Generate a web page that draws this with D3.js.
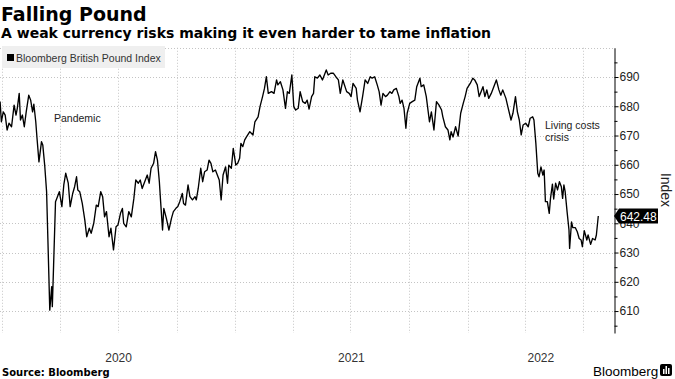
<!DOCTYPE html>
<html>
<head>
<meta charset="utf-8">
<script src="https://cdn.jsdelivr.net/npm/d3@7"></script>
<style>
  body { margin: 0; background: #fff; }
  svg { display: block; font-family: 'Liberation Sans', Arial, sans-serif; }
</style>
</head>
<body>
<script>
(function () {
  'use strict';

  // Bloomberg British Pound Index
  var dates = [
    '2019-12-29', '2019-12-31', '2020-01-03', '2020-01-06', '2020-01-09', '2020-01-12', '2020-01-16', '2020-01-20',
    '2020-01-23', '2020-01-25', '2020-01-28', '2020-01-30', '2020-02-02', '2020-02-05', '2020-02-08', '2020-02-12',
    '2020-02-15', '2020-02-18', '2020-02-20', '2020-02-23', '2020-02-25', '2020-02-28', '2020-03-03', '2020-03-05',
    '2020-03-08', '2020-03-11', '2020-03-13', '2020-03-16', '2020-03-19', '2020-03-20', '2020-03-22', '2020-03-25',
    '2020-03-27', '2020-03-31', '2020-04-04', '2020-04-07', '2020-04-10', '2020-04-14', '2020-04-17', '2020-04-21',
    '2020-04-24', '2020-04-27', '2020-04-29', '2020-05-02', '2020-05-06', '2020-05-10', '2020-05-13', '2020-05-17',
    '2020-05-20', '2020-05-24', '2020-05-28', '2020-05-31', '2020-06-04', '2020-06-07', '2020-06-10', '2020-06-13',
    '2020-06-17', '2020-06-20', '2020-06-24', '2020-06-28', '2020-07-01', '2020-07-05', '2020-07-08', '2020-07-10',
    '2020-07-14', '2020-07-18', '2020-07-22', '2020-07-26', '2020-07-29', '2020-08-02', '2020-08-05', '2020-08-08',
    '2020-08-12', '2020-08-16', '2020-08-19', '2020-08-22', '2020-08-26', '2020-08-29', '2020-09-01', '2020-09-04',
    '2020-09-06', '2020-09-09', '2020-09-11', '2020-09-15', '2020-09-19', '2020-09-23', '2020-09-26', '2020-09-30',
    '2020-10-03', '2020-10-06', '2020-10-10', '2020-10-12', '2020-10-15', '2020-10-19', '2020-10-22', '2020-10-26',
    '2020-10-30', '2020-11-01', '2020-11-04', '2020-11-08', '2020-11-11', '2020-11-14', '2020-11-18', '2020-11-21',
    '2020-11-24', '2020-11-27', '2020-12-01', '2020-12-04', '2020-12-07', '2020-12-10', '2020-12-13', '2020-12-17',
    '2020-12-20', '2020-12-22', '2020-12-26', '2020-12-29', '2021-01-02', '2021-01-05', '2021-01-08', '2021-01-10',
    '2021-01-13', '2021-01-16', '2021-01-19', '2021-01-24', '2021-01-29', '2021-02-01', '2021-02-06', '2021-02-09',
    '2021-02-13', '2021-02-16', '2021-02-19', '2021-02-22', '2021-02-27', '2021-03-03', '2021-03-07', '2021-03-09',
    '2021-03-13', '2021-03-17', '2021-03-21', '2021-03-24', '2021-03-27', '2021-03-31', '2021-04-03', '2021-04-06',
    '2021-04-10', '2021-04-13', '2021-04-17', '2021-04-21', '2021-04-24', '2021-04-27', '2021-05-01', '2021-05-04',
    '2021-05-06', '2021-05-10', '2021-05-14', '2021-05-18', '2021-05-24', '2021-05-27', '2021-05-31', '2021-06-04',
    '2021-06-08', '2021-06-12', '2021-06-15', '2021-06-19', '2021-06-25', '2021-06-29', '2021-07-02', '2021-07-05',
    '2021-07-10', '2021-07-12', '2021-07-16', '2021-07-20', '2021-07-24', '2021-07-28', '2021-08-01', '2021-08-04',
    '2021-08-08', '2021-08-12', '2021-08-15', '2021-08-18', '2021-08-21', '2021-08-25', '2021-08-28', '2021-09-01',
    '2021-09-04', '2021-09-07', '2021-09-11', '2021-09-15', '2021-09-17', '2021-09-20', '2021-09-23', '2021-09-26',
    '2021-09-28', '2021-10-02', '2021-10-06', '2021-10-10', '2021-10-13', '2021-10-18', '2021-10-20', '2021-10-24',
    '2021-10-28', '2021-11-02', '2021-11-05', '2021-11-09', '2021-11-13', '2021-11-17', '2021-11-21', '2021-11-23',
    '2021-11-27', '2021-12-01', '2021-12-04', '2021-12-06', '2021-12-09', '2021-12-13', '2021-12-17', '2021-12-21',
    '2021-12-25', '2021-12-28', '2021-12-31', '2022-01-05', '2022-01-09', '2022-01-12', '2022-01-16', '2022-01-19',
    '2022-01-22', '2022-01-25', '2022-01-28', '2022-01-31', '2022-02-03', '2022-02-07', '2022-02-11', '2022-02-15',
    '2022-02-19', '2022-02-22', '2022-02-25', '2022-03-02', '2022-03-05', '2022-03-10', '2022-03-13', '2022-03-17',
    '2022-03-20', '2022-03-23', '2022-03-26', '2022-03-29', '2022-04-02', '2022-04-06', '2022-04-09', '2022-04-13',
    '2022-04-15', '2022-04-18', '2022-04-21', '2022-04-23', '2022-04-26', '2022-04-29', '2022-05-01', '2022-05-03',
    '2022-05-06', '2022-05-09', '2022-05-11', '2022-05-14', '2022-05-16', '2022-05-19', '2022-05-22', '2022-05-25',
    '2022-05-28', '2022-05-30', '2022-06-01', '2022-06-03', '2022-06-06', '2022-06-09', '2022-06-10', '2022-06-13',
    '2022-06-15', '2022-06-19', '2022-06-22', '2022-06-25', '2022-06-28', '2022-06-30', '2022-07-03', '2022-07-07',
    '2022-07-09', '2022-07-13', '2022-07-16', '2022-07-20', '2022-07-22', '2022-07-25'
  ];

  var values = [
    681.6, 674.7, 678.1, 677.0, 671.9, 674.2, 673.0, 680.4,
    677.0, 679.3, 684.4, 675.3, 677.0, 673.0, 678.1, 683.8,
    682.1, 678.1, 680.7, 674.7, 669.0, 661.0, 667.9, 666.8,
    659.9, 650.8, 634.8, 610.3, 618.3, 611.5, 625.7, 647.4,
    648.5, 650.8, 645.7, 653.1, 657.1, 653.7, 645.7, 650.2,
    652.5, 655.9, 651.4, 650.8, 646.8, 641.1, 635.4, 638.3,
    636.6, 640.0, 646.2, 645.7, 650.8, 649.1, 642.2, 644.0,
    635.4, 638.3, 630.9, 638.8, 639.4, 643.4, 645.1, 640.0,
    638.8, 644.0, 642.2, 648.5, 654.8, 653.7, 654.8, 651.9,
    654.2, 656.5, 653.7, 658.8, 660.5, 664.5, 661.6, 654.2,
    647.4, 637.7, 645.1, 641.7, 637.7, 641.7, 644.0, 645.1,
    645.7, 647.4, 650.2, 646.8, 646.2, 653.1, 649.1, 648.0,
    649.1, 648.0, 651.9, 658.8, 654.2, 657.6, 658.2, 661.6,
    660.5, 657.6, 658.2, 656.5, 654.8, 648.0, 656.5, 659.3,
    653.7, 659.9, 658.8, 665.6, 659.9, 660.5, 662.2, 667.3,
    666.2, 668.5, 669.6, 671.3, 670.2, 674.7, 676.4, 679.9,
    683.3, 686.1, 690.1, 684.4, 685.0, 684.4, 689.0, 687.3,
    688.4, 685.6, 679.3, 685.0, 684.4, 690.7, 679.9, 678.7,
    679.3, 685.0, 681.6, 681.0, 682.1, 679.0, 683.3, 684.4,
    690.1, 689.6, 690.7, 689.0, 692.4, 690.7, 691.3, 691.3,
    690.1, 689.0, 684.4, 689.0, 685.0, 684.4, 683.3, 687.8,
    686.1, 682.1, 678.1, 683.3, 689.0, 687.8, 690.1, 689.6,
    690.1, 687.3, 685.0, 680.4, 684.4, 683.3, 683.8, 685.0,
    684.4, 685.6, 686.1, 683.3, 681.0, 682.1, 679.3, 672.5,
    677.6, 681.0, 681.6, 682.1, 686.7, 689.6, 686.7, 687.3,
    683.3, 674.7, 678.1, 671.9, 681.6, 680.4, 678.7, 676.4,
    673.0, 671.9, 668.5, 671.3, 669.5, 673.0, 669.8, 677.6,
    681.0, 683.3, 686.1, 687.8, 689.6, 689.0, 687.3, 683.3,
    685.0, 686.7, 683.3, 685.6, 682.7, 684.4, 686.7, 689.0,
    685.6, 683.8, 685.6, 682.7, 679.9, 675.3, 677.6, 683.3,
    678.1, 675.3, 670.2, 673.6, 674.2, 673.0, 675.9, 676.4,
    675.3, 667.3, 657.1, 655.9, 659.3, 656.5, 658.2, 647.4,
    647.4, 643.4, 648.5, 653.4, 648.3, 653.7, 651.4, 654.2,
    652.5, 648.5, 653.1, 650.8, 644.0, 637.7, 631.4, 640.5,
    638.5, 638.5, 637.1, 634.8, 634.3, 632.0, 637.5, 634.3,
    636.0, 632.8, 634.8, 634.3, 636.0, 642.48
  ];

  var yTicks = [610, 620, 630, 640, 650, 660, 670, 680, 690];
  var yGrid = [610, 620, 630, 640, 650, 660, 670, 680, 690, 700];
  var yMinor = [605, 615, 625, 635, 645, 655, 665, 675, 685, 695];
  var years = ['2020', '2021', '2022'];
  var lastValueLabel = '642.48';

  var titleText = 'Falling Pound';
  var subtitleText = 'A weak currency risks making it even harder to tame inflation';
  var legendText = 'Bloomberg British Pound Index';
  var sourceText = 'Source: Bloomberg';

  var W = 675,
    H = 379,
    plotLeft = 0,
    plotRight = 614,
    plotTop = 47.75,
    plotBottom = 333,
    parse = d3.utcParse('%Y-%m-%d'),
    svg,
    x,
    y,
    data;

  init();

  function init() {
    data = dates.map(function (d, i) {
      return { date: parse(d), value: values[i] };
    });

    svg = d3.select('body')
      .append('svg')
      .attr('width', W)
      .attr('height', H);

    svg.append('rect')
      .attr('width', W)
      .attr('height', H)
      .attr('fill', '#fff');

    x = d3.scaleUtc()
      .domain([parse('2020-01-01'), parse('2022-07-01')])
      .range([2, 583]);

    y = d3.scaleLinear()
      .domain([602.5, 700])
      .range([plotBottom, plotTop]);

    drawTitles();
    drawGrid();
    drawLegend();
    drawLine();
    drawAxis();
    drawNotes();
    drawFooter();
  }

  function drawTitles() {
    svg.append('text')
      .attr('x', 1)
      .attr('y', 21)
      .attr('font-family', 'DejaVu Sans')
      .attr('font-weight', 'bold')
      .attr('font-size', 19)
      .attr('fill', '#000')
      .text(titleText);

    svg.append('text')
      .attr('x', 1)
      .attr('y', 38)
      .attr('font-family', 'DejaVu Sans')
      .attr('font-weight', 'bold')
      .attr('font-size', 14)
      .attr('fill', '#000')
      .text(subtitleText);
  }

  function drawGrid() {
    var quarters = d3.utcMonth.every(3).range(parse('2020-01-01'), parse('2022-07-02'));

    svg.append('g')
      .selectAll('line')
      .data(yGrid)
      .enter()
      .append('line')
      .attr('x1', plotLeft)
      .attr('x2', plotRight)
      .attr('y1', function (d) { return Math.round(y(d)) + 0.5; })
      .attr('y2', function (d) { return Math.round(y(d)) + 0.5; })
      .attr('stroke', '#c4c4c4')
      .attr('stroke-dasharray', '1,2');

    svg.append('g')
      .selectAll('line')
      .data(quarters)
      .enter()
      .append('line')
      .attr('x1', function (d) { return Math.round(x(d)) + 0.5; })
      .attr('x2', function (d) { return Math.round(x(d)) + 0.5; })
      .attr('y1', plotTop)
      .attr('y2', plotBottom)
      .attr('stroke', '#c4c4c4')
      .attr('stroke-dasharray', '1,2');
  }

  function drawLegend() {
    var g = svg.append('g');

    g.append('rect')
      .attr('x', 2)
      .attr('y', 46)
      .attr('width', 163)
      .attr('height', 22)
      .attr('fill', '#efefef');

    g.append('rect')
      .attr('x', 7)
      .attr('y', 54)
      .attr('width', 7)
      .attr('height', 7)
      .attr('fill', '#000');

    g.append('text')
      .attr('x', 16)
      .attr('y', 61.5)
      .attr('font-size', 10.5)
      .attr('fill', '#333')
      .text(legendText);
  }

  function drawLine() {
    svg.append('clipPath')
      .attr('id', 'plot-clip')
      .append('rect')
      .attr('x', plotLeft)
      .attr('y', plotTop - 5)
      .attr('width', plotRight - plotLeft)
      .attr('height', plotBottom - plotTop + 5);

    var line = d3.line()
      .x(function (d) { return x(d.date); })
      .y(function (d) { return y(d.value); });

    svg.append('path')
      .datum(data)
      .attr('clip-path', 'url(#plot-clip)')
      .attr('fill', 'none')
      .attr('stroke', '#000')
      .attr('stroke-width', 1.35)
      .attr('stroke-linejoin', 'round')
      .attr('d', line);
  }

  function drawAxis() {
    var axis = d3.axisRight(y)
      .tickValues(yTicks)
      .tickSize(4)
      .tickSizeOuter(0)
      .tickPadding(1)
      .tickFormat(d3.format('d'));

    var g = svg.append('g')
      .attr('transform', 'translate(' + (plotRight + 0.5) + ',0)')
      .call(axis);

    g.select('.domain').attr('stroke', '#000');
    g.selectAll('.tick line').attr('stroke', '#000');
    g.selectAll('.tick text')
      .attr('font-family', 'Liberation Sans, Arial, sans-serif')
      .attr('font-size', 12)
      .attr('fill', '#222');

    var minor = d3.axisRight(y)
      .tickValues(yMinor)
      .tickSize(3)
      .tickSizeOuter(0)
      .tickFormat('');

    var gm = svg.append('g')
      .attr('transform', 'translate(' + (plotRight + 0.5) + ',0)')
      .call(minor);
    gm.select('.domain').remove();
    gm.selectAll('.tick line').attr('stroke', '#000');

    svg.append('text')
      .attr('transform', 'translate(661,190) rotate(90)')
      .attr('text-anchor', 'middle')
      .attr('font-size', 14)
      .attr('fill', '#222')
      .text('Index');

    // last value tag, drawn over the 640 label as in the original
    var last = data[data.length - 1],
      ty = y(last.value),
      tx = plotRight;

    svg.append('path')
      .attr('d', 'M' + tx + ',' + ty +
        'L' + (tx + 5) + ',' + (ty - 7.5) +
        'L' + (tx + 44) + ',' + (ty - 7.5) +
        'L' + (tx + 44) + ',' + (ty + 7.5) +
        'L' + (tx + 5) + ',' + (ty + 7.5) + 'Z')
      .attr('fill', '#000');

    svg.append('text')
      .attr('x', tx + 6)
      .attr('y', ty + 4.5)
      .attr('font-size', 12)
      .attr('fill', '#fff')
      .text(lastValueLabel);

    // year labels centred on the visible part of each year
    svg.append('g')
      .selectAll('text')
      .data(years)
      .enter()
      .append('text')
      .attr('x', function (d) {
        var a = x(parse(d + '-01-01')),
          b = Math.min(x(parse((+d + 1) + '-01-01')), plotRight);
        return (a + b) / 2;
      })
      .attr('y', 362)
      .attr('text-anchor', 'middle')
      .attr('font-size', 12)
      .attr('fill', '#333')
      .text(function (d) { return d; });
  }

  function drawNotes() {
    svg.append('text')
      .attr('x', 54)
      .attr('y', 122)
      .attr('font-size', 10.5)
      .attr('fill', '#222')
      .text('Pandemic');

    var t = svg.append('text')
      .attr('x', 545)
      .attr('y', 129)
      .attr('font-size', 10.5)
      .attr('fill', '#222');
    t.append('tspan').attr('x', 545).text('Living costs');
    t.append('tspan').attr('x', 545).attr('dy', 12).text('crisis');
  }

  function drawFooter() {
    svg.append('text')
      .attr('x', 2)
      .attr('y', 376)
      .attr('font-family', 'DejaVu Sans')
      .attr('font-weight', 'bold')
      .attr('font-size', 10)
      .attr('fill', '#000')
      .text(sourceText);

    svg.append('text')
      .attr('x', 593)
      .attr('y', 376)
      .attr('font-size', 13.5)
      .attr('fill', '#000')
      .text('Bloomberg');

    var icon = svg.append('g').attr('transform', 'translate(660,364)');
    icon.append('rect')
      .attr('width', 12)
      .attr('height', 12)
      .attr('rx', 2)
      .attr('fill', '#000');
    [[3, 5, 5], [5.5, 2, 8], [8, 4, 6]].forEach(function (b) {
      icon.append('rect')
        .attr('x', b[0])
        .attr('y', b[1])
        .attr('width', 1.5)
        .attr('height', b[2])
        .attr('fill', '#fff');
    });
  }
}());
</script>
</body>
</html>
